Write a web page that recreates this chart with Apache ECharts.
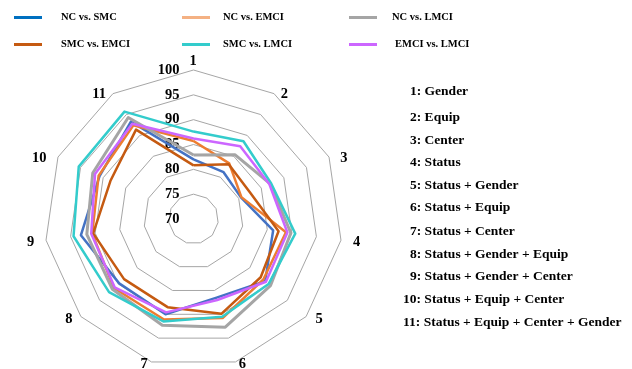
<!DOCTYPE html>
<html><head><meta charset="utf-8">
<script src="https://cdn.jsdelivr.net/npm/echarts@6/dist/echarts.min.js"></script>
<style>html,body{margin:0;padding:0;background:#fff}#c{width:632px;height:369px}</style>
</head><body><div id="c"></div>
<script>
// ---- data ----
const axisNames = ['1','2','3','4','5','6','7','8','9','10','11'];
const seriesNames = ['NC vs. SMC','NC vs. EMCI','NC vs. LMCI','SMC vs. EMCI','SMC vs. LMCI','EMCI vs. LMCI'];
const ncSmc    = [82.0, 81.2, 80.5, 86.2, 89.1, 86.5, 90.0, 89.8, 92.9, 90.8, 93.3];
const ncEmci   = [85.7, 83.3, 80.6, 88.8, 88.6, 90.8, 91.1, 91.2, 90.6, 91.0, 92.4];
const ncLmci   = [82.9, 85.4, 87.0, 89.8, 90.5, 92.7, 92.3, 91.6, 91.7, 92.3, 94.3];
const smcEmci  = [80.8, 83.1, 82.6, 87.3, 87.9, 89.9, 88.5, 88.5, 90.4, 88.4, 91.4];
const smcLmci  = [87.6, 88.6, 87.2, 90.7, 90.0, 90.5, 91.5, 92.5, 94.4, 95.4, 95.7];
const emciLmci = [86.2, 87.4, 86.8, 89.1, 89.3, 87.0, 89.6, 91.0, 90.8, 91.8, 92.8];
const axisMin = 70, axisMax = 100, axisSplits = 6;
const keyLabels = ['1: Gender','2: Equip','3: Center','4: Status','5: Status + Gender','6: Status + Equip',
  '7: Status + Center','8: Status + Gender + Equip','9: Status + Gender + Center','10: Status + Equip + Center',
  '11: Status + Equip + Center + Gender'];

// ---- styles / layout ----
const SERIF = '"Liberation Serif","Times New Roman",serif';
const lineColors = ['#4472C4','#ED7D31','#A5A5A5','#C55A11','#33CCCC','#CC66FF'];
const legendColors = ['#0070C0','#F4B183','#A5A5A5','#C55A11','#33CCCC','#CC66FF'];
const lineWidths = [2.5,2.5,3,2.5,2.5,2.5];
const legendPos = [[14,12],[182,12],[349,12],[14,39],[182,39],[349,39]];
const legendTextPad = [14,8,10,14,8,13];
// per-axis name gap and horizontal nudge (axes 1..11)
const nameGaps = [8.3,-0.2,-2.9,15.9,3.7,2.1,2.1,3.7,15.5,-2.9,-0.2];
const nameDx = [-0.5,10.4,17.6,0,10.1,6.4,-6.9,-9.3,0,-21.4,-13.9];
const keyY = [92,117.5,141,163,186,208,232,255,277,300,323];

const allSeries = [ncSmc, ncEmci, ncLmci, smcEmci, smcLmci, emciLmci];
// ECharts lays indicators out counter-clockwise; the reference runs clockwise.
const order = [0,10,9,8,7,6,5,4,3,2,1];

const chart = echarts.init(document.getElementById('c'), null, {renderer:'canvas'});
const option = {
  animation: false,
  backgroundColor: '#fff',
  legend: seriesNames.map((n,i)=>({
    data: [{name:n, itemStyle:{color: legendColors[i], borderWidth:0}}],
    left: legendPos[i][0], top: legendPos[i][1], padding: 0,
    icon: 'rect', itemWidth: 28, itemHeight: 3, selectedMode: false,
    textStyle: {fontFamily: SERIF, fontWeight:'bold', fontSize: 10.5, color:'#000', padding:[0,0,0,legendTextPad[i]]}
  })),
  radar: {
    center: [193.5, 219], radius: 149, startAngle: 90, shape: 'polygon', splitNumber: axisSplits,
    axisNameGap: 10,
    axisName: {color:'#000', fontFamily: SERIF, fontWeight:'bold', fontSize: 14.5, align:'center', verticalAlign:'middle'},
    indicator: order.map((k,j)=>{
      const sx = nameDx[k];
      const ind = {name: axisNames[k], min: axisMin, max: axisMax, nameGap: nameGaps[k],
        nameTextStyle: {padding: [0, Math.max(0,-2*sx), 0, Math.max(0,2*sx)]}};
      if (j === 0) ind.axisLabel = {show: true};
      return ind;
    }),
    axisLine: {show: false},
    axisTick: {show: false},
    axisLabel: {show: false, color:'#000', fontFamily: SERIF, fontWeight:'bold', fontSize: 14.5, margin: 14},
    splitLine: {lineStyle: {color:'#A6A6A6', width: 1}},
    splitArea: {show: false}
  },
  graphic: keyLabels.map((t,i)=>({
    type:'text', x: i >= 9 ? 403 : 410, y: keyY[i],
    style: {text: t, fill:'#000', fontFamily: SERIF, fontWeight:'bold', fontSize: 13.5, verticalAlign:'middle', align:'left'}
  })),
  series: seriesNames.map((n,i)=>({
    type: 'radar', name: n, symbol: 'none', silent: true,
    lineStyle: {color: lineColors[i], width: lineWidths[i]},
    itemStyle: {color: lineColors[i]},
    data: [{name: n, value: order.map(k => allSeries[i][k])}]
  }))
};
chart.setOption(option);
</script></body></html>
